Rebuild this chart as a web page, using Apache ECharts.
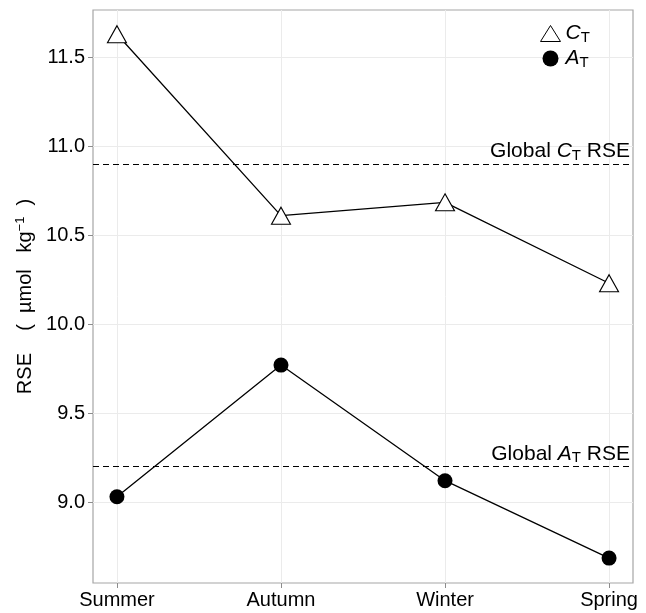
<!DOCTYPE html>
<html><head><meta charset="utf-8">
<script src="https://cdn.jsdelivr.net/npm/echarts@6/dist/echarts.min.js"></script>
<style>html,body{margin:0;padding:0;background:#fff}#c{width:646px;height:613px}</style>
</head><body><div id="c"></div>
<script>
const seasons = ['Summer', 'Autumn', 'Winter', 'Spring'];
const ctValues = [11.63, 10.61, 10.685, 10.23];
const atValues = [9.03, 9.77, 9.12, 8.685];
const globalCt = 10.90;
const globalAt = 9.20;
const yTicks = [9.0, 9.5, 10.0, 10.5, 11.0, 11.5];
const xPos = [1, 2, 3, 4];

const FONT = '"Liberation Sans", Arial, sans-serif';
const chart = echarts.init(document.getElementById('c'), null, {renderer: 'canvas'});
const rich = {
  i: {fontStyle: 'italic', fontSize: 21, fontFamily: FONT, color: '#000'},
  s: {fontSize: 15, fontFamily: FONT, color: '#000', verticalAlign: 'bottom', padding: [8, 0, 0, 0]},
  n: {fontSize: 21, fontFamily: FONT, color: '#000'}
};
const ctData = xPos.map((x, i) => [x, ctValues[i]]);
const atData = xPos.map((x, i) => [x, atValues[i]]);

chart.setOption({
  animation: false,
  backgroundColor: '#fff',
  grid: {left: 93, right: 13, top: 10, bottom: 30, show: true, borderColor: '#a6a6a6', borderWidth: 1.2, containLabel: false},
  xAxis: {
    type: 'value', min: 0.854, max: 4.146,
    axisLine: {show: false},
    axisTick: {show: true, customValues: xPos, length: 5, lineStyle: {color: '#8c8c8c'}},
    axisLabel: {customValues: xPos, formatter: v => seasons[Math.round(v) - 1], fontSize: 20, fontFamily: FONT, color: '#000', margin: 7},
    splitLine: {show: false}
  },
  yAxis: {
    type: 'value', min: 8.545, max: 11.766,
    name: '{n|RSE    (  µmol   kg}{sup|−1}{n|  )}',
    nameLocation: 'middle', nameGap: 54, nameRotate: 90,
    nameTextStyle: {rich: {n: {fontSize: 20, fontFamily: FONT, color: '#000'}, sup: {fontSize: 13, fontFamily: FONT, color: '#000', verticalAlign: 'top', padding: [0, 0, 10, 0]}}},
    axisLine: {show: false},
    axisTick: {show: true, customValues: yTicks, length: 5, lineStyle: {color: '#8c8c8c'}},
    axisLabel: {customValues: yTicks, formatter: v => v.toFixed(1), fontSize: 20, fontFamily: FONT, color: '#000', margin: 8},
    splitLine: {show: false}
  },
  legend: {
    orient: 'vertical', left: 540, top: 23, padding: 0, itemGap: 3, itemWidth: 20, itemHeight: 16, z: 10,
    textStyle: {rich: rich, fontSize: 20, fontFamily: FONT},
    formatter: name => name === 'CT' ? '{i|C}{s|T}' : '{i|A}{s|T}',
    data: [{name: 'CT', icon: 'triangle', itemStyle: {color: '#fff', borderColor: '#000', borderWidth: 1}},
           {name: 'AT', icon: 'circle', itemStyle: {color: '#000', borderWidth: 0}}]
  },
  series: [
    {
      name: 'grid', type: 'line', data: [], silent: true, z: 1,
      markLine: {
        silent: true, symbol: 'none', label: {show: false}, z: 1,
        lineStyle: {color: '#ebebeb', width: 1, type: 'solid'},
        data: yTicks.map(v => ({yAxis: v})).concat(xPos.map(v => ({xAxis: v})))
      }
    },
    {
      name: 'CT', type: 'line', data: ctData, z: 5,
      symbol: 'triangle', symbolSize: [19, 17],
      lineStyle: {color: '#000', width: 1.3},
      itemStyle: {color: '#fff', borderColor: '#000', borderWidth: 1.1},
      markLine: {
        silent: true, symbol: 'none', z: 3,
        lineStyle: {color: '#000', width: 1, type: [6, 4]},
        label: {show: true, position: 'insideEndTop', distance: [3, 1], formatter: '{n|Global }{i|C}{s|T}{n| RSE}', rich: rich},
        data: [{yAxis: globalCt}]
      }
    },
    {
      name: 'AT', type: 'line', data: atData, z: 5,
      symbol: 'circle', symbolSize: 15,
      lineStyle: {color: '#000', width: 1.3},
      itemStyle: {color: '#000'},
      markLine: {
        silent: true, symbol: 'none', z: 3,
        lineStyle: {color: '#000', width: 1, type: [6, 4]},
        label: {show: true, position: 'insideEndTop', distance: [3, 1], formatter: '{n|Global }{i|A}{s|T}{n| RSE}', rich: rich},
        data: [{yAxis: globalAt}]
      }
    }
  ]
});
</script></body></html>
